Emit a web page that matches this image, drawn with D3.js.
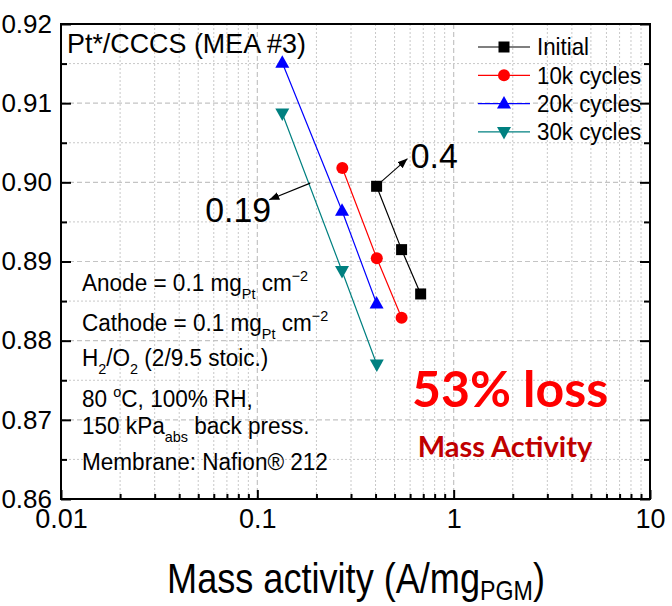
<!DOCTYPE html>
<html><head><meta charset="utf-8">
<script src="https://cdn.jsdelivr.net/npm/d3@7"></script>
<style>body{margin:0;background:#fff}svg{display:block}</style>
</head><body><svg id="c" width="672" height="606" font-family="'Liberation Sans',Arial,sans-serif"></svg>
<script>
// ---- data ----
const seriesNames = ["Initial", "10k cycles", "20k cycles", "30k cycles"];
const seriesColors = ["#000000", "#ff0000", "#0000ff", "#008080"];
const seriesSymbols = ["square", "circle", "triangle", "triangleDown"];
const initialX = [0.405, 0.543, 0.679];
const initialY = [0.8995, 0.8915, 0.8859];
const k10X = [0.271, 0.406, 0.543];
const k10Y = [0.9018, 0.8904, 0.8829];
const k20X = [0.134, 0.270, 0.405];
const k20Y = [0.9151, 0.8964, 0.8847];
const k30X = [0.134, 0.270, 0.406];
const k30Y = [0.9087, 0.8888, 0.8770];
const xTickLabels = ["0.01", "0.1", "1", "10"];
const xTicks = [0.01, 0.1, 1, 10];
const yTicks = [0.86, 0.87, 0.88, 0.89, 0.90, 0.91, 0.92];
const yTickLabels = ["0.86", "0.87", "0.88", "0.89", "0.90", "0.91", "0.92"];
const arrow04 = {from: [0.424, 0.9000], to: [0.582, 0.9030], label: "0.4", at: [0.604, 0.9018]};
const arrow019 = {from: [0.186, 0.8999], to: [0.115, 0.8978], label: "0.19", at: [0.0543, 0.8950]};

const seriesX = [initialX, k10X, k20X, k30X];
const seriesY = [initialY, k10Y, k20Y, k30Y];

const svg = d3.select("#c");
const L = 61, R = 650, T = 24, B = 499;
const x = d3.scaleLog().domain([0.01, 10]).range([L, R]);
const y = d3.scaleLinear().domain([0.86, 0.92]).range([B, T]);

// minor values
const xMinor = [];
[0.01, 0.1, 1].forEach(d => { for (let m = 2; m <= 9; m++) xMinor.push(d * m); });
const yMinor = d3.range(0.865, 0.92, 0.01);

// grid
const g = svg.append("g");
g.selectAll(".xmin").data(xMinor).join("line")
  .attr("x1", d => x(d)).attr("x2", d => x(d)).attr("y1", T).attr("y2", B)
  .attr("stroke", "#c8c8c8").attr("stroke-width", 1).attr("stroke-dasharray", "2,2");
g.selectAll(".ymin").data(yMinor).join("line")
  .attr("y1", d => y(d)).attr("y2", d => y(d)).attr("x1", L).attr("x2", R)
  .attr("stroke", "#c8c8c8").attr("stroke-width", 1).attr("stroke-dasharray", "2,2");
g.selectAll(".xmaj").data(xTicks.slice(1, -1)).join("line")
  .attr("x1", d => x(d)).attr("x2", d => x(d)).attr("y1", T).attr("y2", B)
  .attr("stroke", "#c4c4c4").attr("stroke-width", 1.2).attr("stroke-dasharray", "5,3");
g.selectAll(".ymaj").data(yTicks.slice(1, -1)).join("line")
  .attr("y1", d => y(d)).attr("y2", d => y(d)).attr("x1", L).attr("x2", R)
  .attr("stroke", "#c4c4c4").attr("stroke-width", 1.2).attr("stroke-dasharray", "5,3");

// axes
const fmtX = d => xTickLabels[xTicks.findIndex(t => Math.abs(t - d) < 1e-9)];
const fmtY = d => yTickLabels[yTicks.findIndex(t => Math.abs(t - d) < 1e-9)];
function styleAxis(sel, fs) {
  sel.select(".domain").remove();
  sel.selectAll("line").attr("stroke", "#000").attr("stroke-width", 2);
  sel.selectAll("text").attr("font-size", fs).attr("fill", "#000").attr("font-family", "'Liberation Sans',Arial,sans-serif");
}
svg.append("g").attr("transform", `translate(0,${B})`)
  .call(d3.axisBottom(x).tickValues(xTicks).tickFormat(fmtX).tickSizeInner(-9).tickSizeOuter(0).tickPadding(10))
  .call(s => styleAxis(s, 27));
svg.append("g").attr("transform", `translate(0,${B})`)
  .call(d3.axisBottom(x).tickValues(xMinor).tickFormat("").tickSizeInner(-5).tickSizeOuter(0))
  .call(s => styleAxis(s, 0));
svg.append("g").attr("transform", `translate(${L},0)`)
  .call(d3.axisLeft(y).tickValues(yTicks).tickFormat(fmtY).tickSizeInner(-10).tickSizeOuter(0).tickPadding(9))
  .call(s => styleAxis(s, 26));
svg.append("g").attr("transform", `translate(${L},0)`)
  .call(d3.axisLeft(y).tickValues(yMinor).tickFormat("").tickSizeInner(-6).tickSizeOuter(0))
  .call(s => styleAxis(s, 0));
svg.append("g").attr("transform", `translate(${R},0)`)
  .call(d3.axisRight(y).tickValues(yTicks).tickFormat("").tickSizeInner(-10).tickSizeOuter(0))
  .call(s => styleAxis(s, 0));
svg.append("g").attr("transform", `translate(${R},0)`)
  .call(d3.axisRight(y).tickValues(yMinor).tickFormat("").tickSizeInner(-6).tickSizeOuter(0))
  .call(s => styleAxis(s, 0));
svg.append("rect").attr("x", L).attr("y", T).attr("width", R - L).attr("height", B - T)
  .attr("fill", "none").attr("stroke", "#000").attr("stroke-width", 2);

// symbols
function drawSymbol(sel, type, color, cx, cy) {
  if (type === "square") sel.append("rect").attr("x", cx - 5.5).attr("y", cy - 5.5).attr("width", 11).attr("height", 11).attr("fill", color);
  else if (type === "circle") sel.append("circle").attr("cx", cx).attr("cy", cy).attr("r", 6).attr("fill", color);
  else if (type === "triangle") sel.append("path").attr("d", `M${cx},${cy - 7.5}L${cx + 7},${cy + 5}L${cx - 7},${cy + 5}Z`).attr("fill", color);
  else sel.append("path").attr("d", `M${cx},${cy + 7.5}L${cx + 7},${cy - 5}L${cx - 7},${cy - 5}Z`).attr("fill", color);
}

const line = d3.line().x(d => x(d[0])).y(d => y(d[1]));
seriesNames.forEach((name, i) => {
  const pts = seriesX[i].map((v, j) => [v, seriesY[i][j]]);
  svg.append("path").attr("d", line(pts)).attr("fill", "none").attr("stroke", seriesColors[i]).attr("stroke-width", 1.2);
  const sg = svg.append("g");
  pts.forEach(p => drawSymbol(sg, seriesSymbols[i], seriesColors[i], x(p[0]), y(p[1])));
});

// legend
const lg = svg.append("g");
seriesNames.forEach((name, i) => {
  const cy = 47 + i * 28.3;
  lg.append("line").attr("x1", 478).attr("x2", 530).attr("y1", cy).attr("y2", cy).attr("stroke", seriesColors[i]).attr("stroke-width", 1.2);
  drawSymbol(lg, seriesSymbols[i], seriesColors[i], 504, cy);
  lg.append("text").attr("x", 537).attr("y", cy + 8.5).attr("font-size", 24).text(name)
    .attr("transform", `translate(537,0) scale(0.93,1) translate(-537,0)`);
});

// arrows
const defs = svg.append("defs");
defs.append("marker").attr("id", "ah").attr("viewBox", "0 0 10 10").attr("refX", 10).attr("refY", 5)
  .attr("markerWidth", 10).attr("markerHeight", 10).attr("markerUnits", "userSpaceOnUse").attr("orient", "auto")
  .append("path").attr("d", "M0,1L10,5L0,9Z").attr("fill", "#000");
[arrow04, arrow019].forEach(a => {
  svg.append("line").attr("x1", x(a.from[0])).attr("y1", y(a.from[1])).attr("x2", x(a.to[0])).attr("y2", y(a.to[1]))
    .attr("stroke", "#000").attr("stroke-width", 1.1).attr("marker-end", "url(#ah)");
  svg.append("text").attr("x", x(a.at[0])).attr("y", y(a.at[1])).attr("font-size", 36).text(a.label)
    .attr("transform", `translate(${x(a.at[0])},0) scale(0.94,1) translate(${-x(a.at[0])},0)`);
});

// title
svg.append("text").attr("x", 67).attr("y", 53).attr("font-size", 28).text("Pt*/CCCS (MEA #3)")
  .attr("transform", "translate(67,0) scale(0.96,1) translate(-67,0)");

// condition text block
const tb = svg.append("g").attr("font-size", 23.5).attr("transform", "translate(82,0) scale(0.96,1) translate(-82,0)");
function rich(yb, parts) {
  const t = tb.append("text").attr("x", 82).attr("y", yb);
  parts.forEach(p => {
    const s = t.append("tspan").text(p[0]);
    if (p[1] === "sub") s.attr("font-size", 15).attr("dy", 8);
    else if (p[1] === "sup") s.attr("font-size", 15).attr("dy", -10);
    else if (p[1] === "back") s.attr("dy", p[2]);
  });
}
rich(291, [["Anode = 0.1 mg"], ["Pt", "sub"], [" cm", "back", -8], ["\u22122", "sup"]]);
rich(331, [["Cathode = 0.1 mg"], ["Pt", "sub"], [" cm", "back", -8], ["\u22122", "sup"]]);
rich(366, [["H"], ["2", "sub"], ["/O", "back", -8], ["2", "sub"], [" (2/9.5 stoic.)", "back", -8]]);
rich(407, [["80 "], ["o", "sup"], ["C, 100% RH,", "back", 10]]);
rich(434, [["150 kPa"], ["abs", "sub"], [" back press.", "back", -8]]);
rich(470, [["Membrane: Nafion\u00AE 212"]]);

// loss annotation
svg.append("text").attr("x", 510).attr("y", 407).attr("text-anchor", "middle").attr("font-family", "Lato,'Open Sans',sans-serif")
  .attr("font-weight", "bold").attr("font-size", 50).attr("fill", "#ff0000").text("53% loss");
svg.append("text").attr("x", 505).attr("y", 457).attr("text-anchor", "middle").attr("font-family", "Lato,'Open Sans',sans-serif")
  .attr("font-weight", "bold").attr("font-size", 29).attr("fill", "#c00000").text("Mass Activity");

// x axis title
const xt = svg.append("text").attr("x", 356).attr("y", 593).attr("text-anchor", "middle").attr("font-size", 42)
  .attr("transform", "translate(356,0) scale(0.86,1) translate(-356,0)");
xt.append("tspan").text("Mass activity (A/mg");
xt.append("tspan").text("PGM").attr("font-size", 27).attr("dy", 7);
xt.append("tspan").text(")").attr("dy", -7);
</script></body></html>
